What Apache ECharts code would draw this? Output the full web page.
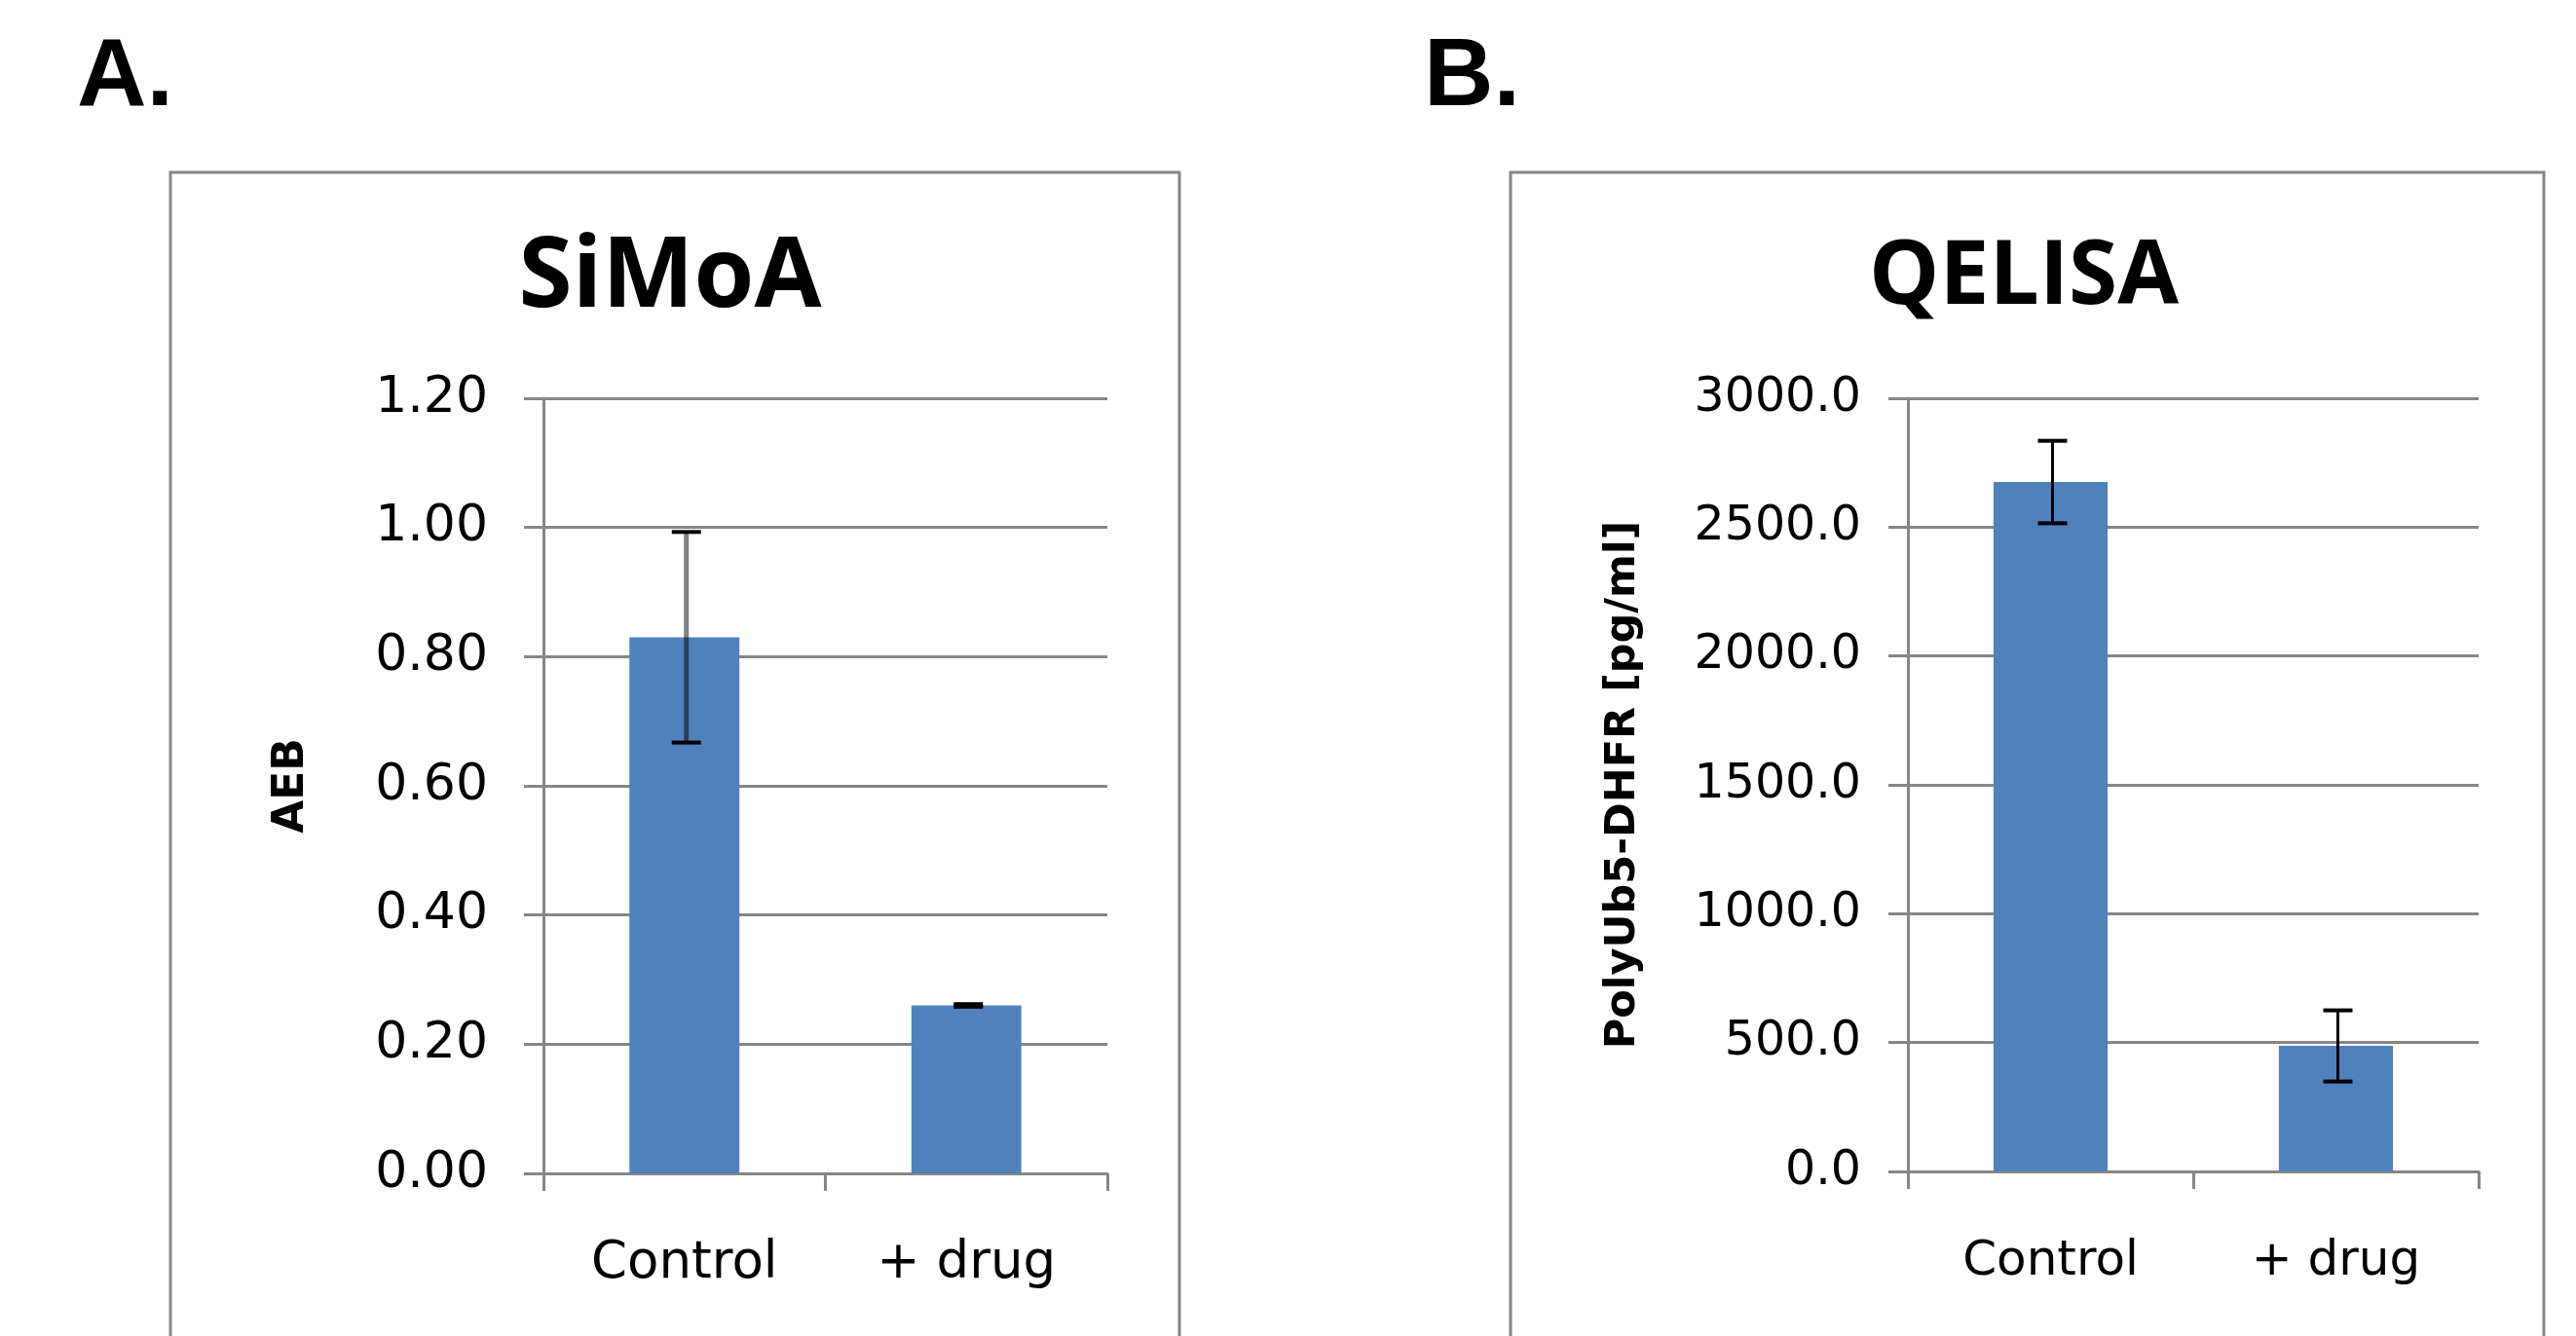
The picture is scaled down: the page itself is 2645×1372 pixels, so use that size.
<!DOCTYPE html>
<html>
<head>
<meta charset="utf-8">
<script src="https://cdn.jsdelivr.net/npm/echarts@6/dist/echarts.min.js"></script>
<style>
html,body{margin:0;padding:0;background:#fff;}
#chart{width:2645px;height:1372px;}
</style>
</head>
<body>
<div id="chart"></div>
<script>
// ---- data ----
const categories = ['Control', '+ drug'];
const simoaMeans = [0.83, 0.26];
const simoaErrors = [0.163, 0.002];
const qelisaMeans = [2675, 487];
const qelisaErrors = [160, 138];
const simoaTicks = { min: 0, max: 1.2, interval: 0.2, decimals: 2 };
const qelisaTicks = { min: 0, max: 3000, interval: 500, decimals: 1 };
const panelLetters = ['A.', 'B.'];
const panelTitles = ['SiMoA', 'QELISA'];
const axisNames = ['AEB', 'PolyUb5-DHFR [pg/ml]'];

const BAR = '#4f81bd';
const GRID = '#868686';

function errData(means, errs) {
  return means.map((m, i) => [i, m, errs[i]]);
}
function makeRender(stemColor, stemWidth, capHalf) {
  return function (params, api) {
    const x = api.value(0), m = api.value(1), e = api.value(2);
    const hi = api.coord([x, m + e]);
    const lo = api.coord([x, m - e]);
    const cx = hi[0] + 2;
    return {
      type: 'group',
      children: [
        { type: 'line', shape: { x1: cx, y1: hi[1], x2: cx, y2: lo[1] }, style: { stroke: stemColor, lineWidth: stemWidth } },
        { type: 'line', shape: { x1: cx - capHalf, y1: hi[1], x2: cx + capHalf, y2: hi[1] }, style: { stroke: '#000', lineWidth: 4 } },
        { type: 'line', shape: { x1: cx - capHalf, y1: lo[1], x2: cx + capHalf, y2: lo[1] }, style: { stroke: '#000', lineWidth: 4 } }
      ]
    };
  };
}

function yAxisFor(gridIndex, t, name, labelSize, nameSize, nameGap, margin) {
  return {
    type: 'value', gridIndex: gridIndex,
    min: t.min, max: t.max, interval: t.interval,
    name: name, nameLocation: 'middle', nameGap: nameGap, nameRotate: 90,
    nameTextStyle: { fontFamily: 'DejaVu Sans', fontWeight: 'bold', fontSize: nameSize, color: '#000' },
    axisLine: { show: true, lineStyle: { color: GRID, width: 3 } },
    axisTick: { show: true, length: 20, lineStyle: { color: GRID, width: 3 } },
    splitLine: { show: true, lineStyle: { color: GRID, width: 3 } },
    axisLabel: {
      margin: margin,
      fontFamily: 'DejaVu Sans', fontSize: labelSize, color: '#000',
      formatter: v => v.toFixed(t.decimals)
    }
  };
}
function xAxisFor(gridIndex, labelSize, margin) {
  return {
    type: 'category', gridIndex: gridIndex, data: categories,
    axisLine: { show: true, lineStyle: { color: GRID, width: 3 } },
    axisTick: { show: true, length: 18, lineStyle: { color: GRID, width: 3 } },
    axisLabel: { margin: margin, fontFamily: 'DejaVu Sans', fontSize: labelSize, color: '#000' }
  };
}

const chart = echarts.init(document.getElementById('chart'), null, { renderer: 'canvas' });
chart.setOption({
  backgroundColor: '#fff',
  animation: false,
  graphic: [
    { type: 'rect', shape: { x: 175, y: 177, width: 1036, height: 1300 }, style: { fill: '#fff', stroke: GRID, lineWidth: 3 }, z: -10 },
    { type: 'rect', shape: { x: 1551, y: 177, width: 1061, height: 1300 }, style: { fill: '#fff', stroke: GRID, lineWidth: 3 }, z: -10 }
  ],
  title: [
    { text: panelLetters[0], left: 74, top: 26, textStyle: { fontFamily: 'Liberation Sans', fontWeight: 'bold', fontSize: 99, color: '#000' } },
    { text: panelLetters[1], left: 1457, top: 26, textStyle: { fontFamily: 'Liberation Sans', fontWeight: 'bold', fontSize: 99, color: '#000' } },
    { text: panelTitles[0], left: 683, top: 232, textAlign: 'center', textStyle: { fontFamily: 'Open Sans', fontWeight: 'bold', fontSize: 100, color: '#000' } },
    { text: panelTitles[1], left: 2073, top: 236, textAlign: 'center', textStyle: { fontFamily: 'Open Sans', fontWeight: 'bold', fontSize: 91, color: '#000' } }
  ],
  grid: [
    { left: 558, top: 409, width: 579, height: 796 },
    { left: 1959, top: 409, width: 586, height: 794 }
  ],
  xAxis: [ xAxisFor(0, 53, 67), xAxisFor(1, 50, 68) ],
  yAxis: [
    yAxisFor(0, simoaTicks, axisNames[0], 52, 44, 236, 57),
    yAxisFor(1, qelisaTicks, axisNames[1], 49, 43, 271, 48)
  ],
  series: [
    { type: 'bar', xAxisIndex: 0, yAxisIndex: 0, data: simoaMeans, barWidth: '39%', itemStyle: { color: BAR } },
    { type: 'bar', xAxisIndex: 1, yAxisIndex: 1, data: qelisaMeans, barWidth: '40%', itemStyle: { color: BAR } },
    { type: 'custom', xAxisIndex: 0, yAxisIndex: 0, data: errData(simoaMeans, simoaErrors), encode: { x: 0, y: 1 }, renderItem: makeRender('rgba(0,0,0,0.5)', 5, 15), z: 5 },
    { type: 'custom', xAxisIndex: 1, yAxisIndex: 1, data: errData(qelisaMeans, qelisaErrors), encode: { x: 0, y: 1 }, renderItem: makeRender('#000', 3, 15), z: 5 }
  ]
});
</script>
</body>
</html>
